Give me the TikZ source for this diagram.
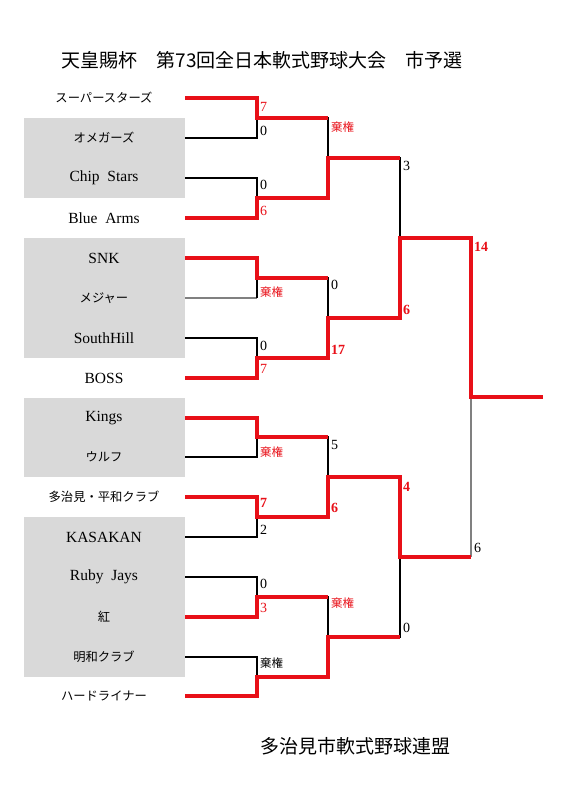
\documentclass[tikz,border=0pt]{standalone}
\usepackage{fontspec}
\setmainfont{Liberation Serif}
\newfontfamily\jp{Noto Sans CJK JP}
\definecolor{bred}{RGB}{232,16,24}
\definecolor{boxgray}{RGB}{217,217,217}
\begin{document}
\begin{tikzpicture}[x=1pt,y=-1pt,
  win/.style={draw=bred,line width=3.2pt,line join=miter},
  lose/.style={draw=black,line width=1.2pt},
  gline/.style={draw=gray,line width=1.4pt},
  team/.style={inner sep=0pt,font=\fontsize{15.5}{15.5}\selectfont},
  jteam/.style={inner sep=0pt,font=\jp\fontsize{12.3}{12.3}\selectfont},
  sc/.style={anchor=west,inner sep=0pt,font=\fontsize{14}{14}\selectfont},
  scr/.style={sc,text=bred},
  scrb/.style={sc,text=bred,font=\bfseries\fontsize{14}{14}\selectfont},
  kiken/.style={anchor=west,inner sep=0pt,font=\jp\fontsize{11.5}{11.5}\selectfont},
  gbox/.style={fill=boxgray,draw=none}]
\useasboundingbox (0,0) rectangle (565,800);
% gray boxes
\fill[gbox] (24,118) rectangle (185,198);
\fill[gbox] (24,238) rectangle (185,358);
\fill[gbox] (24,398) rectangle (185,477);
\fill[gbox] (24,517) rectangle (185,677);
% title and footer
\node[inner sep=0pt,font=\jp\fontsize{19}{19}\selectfont] (title) at (262,60) {天皇賜杯　第73回全日本軟式野球大会　市予選};
\node[inner sep=0pt,font=\jp\fontsize{19}{19}\selectfont] (footer) at (355,746) {多治見市軟式野球連盟};
% teams
\node[jteam] (t1) at (104,98) {スーパースターズ};
\node[jteam] (t2) at (104,138) {オメガーズ};
\node[team] (t3) at (104,178) {Chip\ \ Stars};
\node[team] (t4) at (104,218) {Blue\ \ Arms};
\node[team] (t5) at (104,258) {SNK};
\node[jteam] (t6) at (104,298) {メジャー};
\node[team] (t7) at (104,338) {SouthHill};
\node[team] (t8) at (104,378) {BOSS};
\node[team] (t9) at (104,418) {Kings};
\node[jteam] (t10) at (104,457) {ウルフ};
\node[jteam] (t11) at (104,497) {多治見・平和クラブ};
\node[team] (t12) at (104,537) {KASAKAN};
\node[team] (t13) at (104,577) {Ruby\ \ Jays};
\node[jteam] (t14) at (104,617) {紅};
\node[jteam] (t15) at (104,657) {明和クラブ};
\node[jteam] (t16) at (104,696) {ハードライナー};
% line starts
\foreach \i/\y in {1/98,2/138,3/178,4/218,5/258,6/298,7/338,8/378,9/418,10/457,11/497,12/537,13/577,14/617,15/657,16/696}
  \coordinate (s\i) at (185,\y);
% junctions
\coordinate (mA) at (257,118); \coordinate (mB) at (257,198);
\coordinate (mC) at (257,278); \coordinate (mD) at (257,358);
\coordinate (mE) at (257,437); \coordinate (mF) at (257,517);
\coordinate (mG) at (257,597); \coordinate (mH) at (257,677);
\coordinate (mAB) at (328,158); \coordinate (mCD) at (328,318);
\coordinate (mEF) at (328,477); \coordinate (mGH) at (328,637);
\coordinate (mTop) at (400,238); \coordinate (mBot) at (400,557);
\coordinate (mFin) at (471,397); \coordinate (endc) at (543,397);
% losing lines
\draw[lose] (s2) -| (mA);
\draw[lose] (s3) -| (mB);
\draw[lose] (mA) -| (mAB);
\draw[gline] (s6) -- (s6 -| mC);
\draw[lose] (s6 -| mC) -- (mC);
\draw[lose] (s7) -| (mD);
\draw[lose] (mC) -| (mCD);
\draw[lose] (mAB) -| (mTop);
\draw[lose] (s10) -| (mE);
\draw[lose] (s12) -| (mF);
\draw[lose] (mE) -| (mEF);
\draw[lose] (s13) -| (mG);
\draw[lose] (s15) -| (mH);
\draw[lose] (mG) -| (mGH);
\draw[lose] (mGH) -| (mBot);
\draw[gline] (mBot -| mFin) -- (mFin);
% winning lines
\draw[win] (s1) -| (mA) -- (mA -| mAB);
\draw[win] (s4) -| (mB) -| (mAB) -- (mAB -| mTop);
\draw[win] (s5) -| (mC) -- (mC -| mCD);
\draw[win] (s8) -| (mD) -| (mCD) -| (mTop) -| (mFin) -- (endc);
\draw[win] (s9) -| (mE) -- (mE -| mEF);
\draw[win] (s11) -| (mF) -| (mEF) -| (mBot) -- (mBot -| mFin);
\draw[win] (s14) -| (mG) -- (mG -| mGH);
\draw[win] (s16) -| (mH) -| (mGH) -- (mGH -| mBot);
% scores
\node[scr] (lA1) at (260,107) {7};
\node[sc] (lA2) at (260,131) {0};
\node[sc] (lB1) at (260,185) {0};
\node[scr] (lB2) at (260,211) {6};
\node[kiken,text=bred] (lAB) at (331,127) {棄権};
\node[kiken,text=bred] (lC) at (260,292) {棄権};
\node[sc] (lD1) at (260,346) {0};
\node[scr] (lD2) at (260,369) {7};
\node[sc] (lCD1) at (331,285) {0};
\node[scrb] (lCD2) at (331,350) {17};
\node[sc] (lT1) at (403,166) {3};
\node[scrb] (lT2) at (403,310) {6};
\node[kiken,text=bred] (lE) at (260,452) {棄権};
\node[scrb] (lF1) at (260,503) {7};
\node[sc] (lF2) at (260,530) {2};
\node[sc] (lEF1) at (331,445) {5};
\node[scrb] (lEF2) at (331,508) {6};
\node[sc] (lG1) at (260,584) {0};
\node[scr] (lG2) at (260,608) {3};
\node[kiken] (lH) at (260,663) {棄権};
\node[kiken,text=bred] (lGH) at (331,603) {棄権};
\node[scrb] (lBo1) at (403,487) {4};
\node[sc] (lBo2) at (403,628) {0};
\node[scrb] (lF1f) at (474,247) {14};
\node[sc] (lF2f) at (474,548) {6};
\end{tikzpicture}
\end{document}
